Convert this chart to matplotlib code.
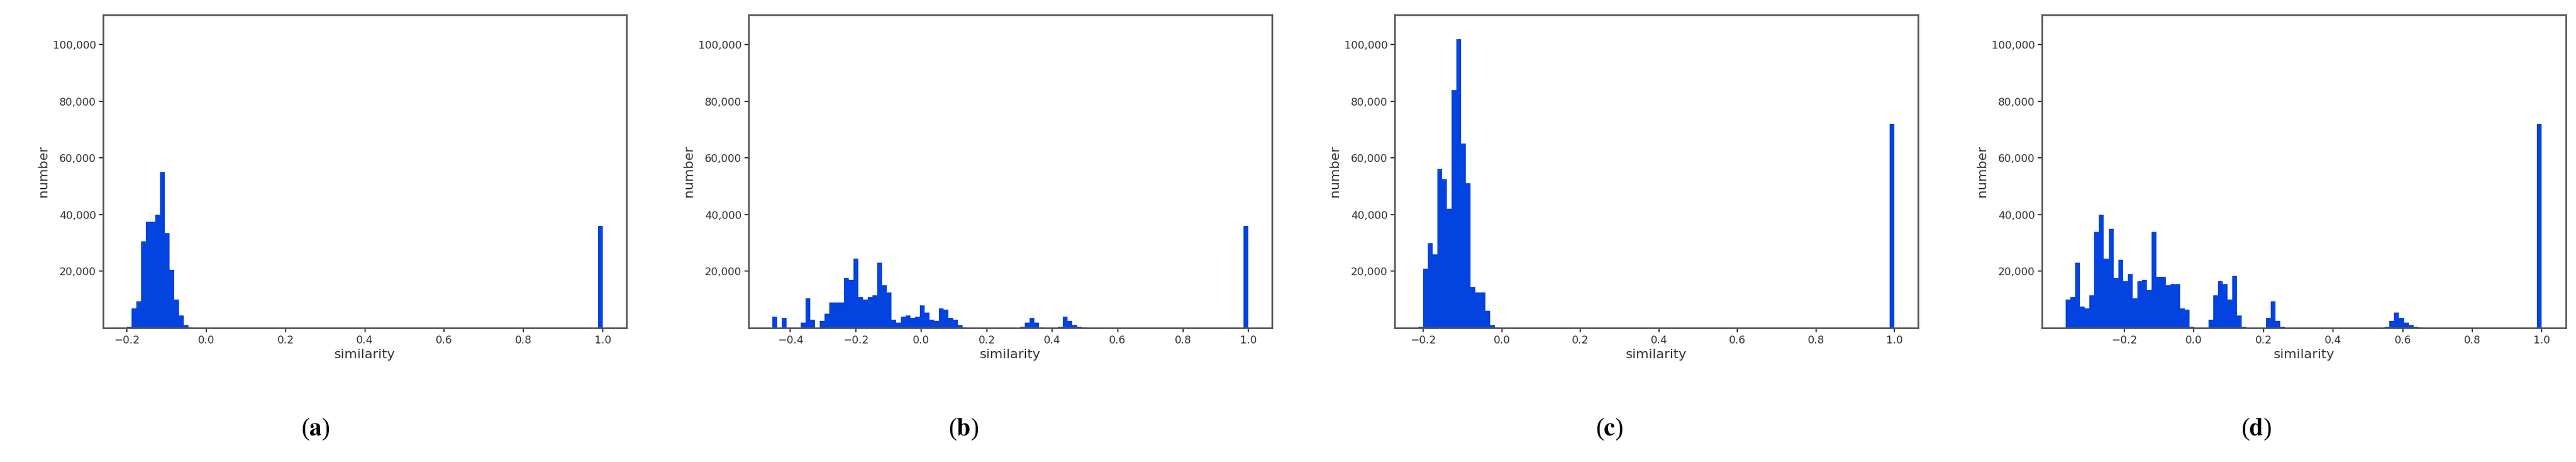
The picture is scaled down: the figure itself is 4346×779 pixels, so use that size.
import numpy as np
import matplotlib.pyplot as plt
from matplotlib.ticker import FuncFormatter

# (a)
a_centers = [-0.194, -0.182, -0.170, -0.158, -0.146, -0.134, -0.122, -0.110, -0.098, -0.086,
             -0.074, -0.062, -0.050, -0.038, 0.994]
a_counts = [500, 7000, 9500, 30500, 37500, 37500, 40000, 55000, 33500, 20500,
            10000, 4500, 1000, 300, 36000]
a_range = (-0.20, 1.0)

# (b)
b_centers = [-0.447, -0.418, -0.359, -0.344, -0.329,
             -0.301, -0.287, -0.272, -0.258, -0.244, -0.228, -0.214, -0.200, -0.186, -0.171,
             -0.156, -0.142, -0.128, -0.113, -0.099, -0.085, -0.069, -0.055, -0.041, -0.027,
             -0.012, 0.003, 0.017, 0.031, 0.046, 0.060, 0.074, 0.090, 0.104, 0.118, 0.132,
             0.310, 0.326, 0.340, 0.354, 0.368,
             0.426, 0.441, 0.455, 0.469, 0.483, 0.499, 0.993]
b_counts = [4000, 3500, 2000, 10500, 3000,
            2500, 5000, 9000, 9000, 9000, 17500, 17000, 24500, 11000, 10000,
            11000, 11500, 23000, 15000, 12500, 3000, 2000, 4000, 4500, 3500,
            4000, 8000, 5500, 3000, 2500, 7000, 6500, 3500, 3000, 1000, 200,
            500, 2000, 3500, 2000, 300,
            500, 4000, 2500, 1000, 500, 300, 36000]
b_range = (-0.455, 1.0)

# (c)
c_centers = [-0.206, -0.194, -0.182, -0.170, -0.157, -0.146, -0.133, -0.121, -0.110, -0.097,
             -0.085, -0.073, -0.062, -0.049, -0.037, -0.026, -0.014, 0.994]
c_counts = [500, 21000, 30000, 26000, 56000, 52500, 42000, 84000, 102000, 65000,
            51000, 14500, 12500, 12500, 6000, 1000, 300, 72000]
c_range = (-0.212, 1.0)

# (d)
d_centers = [-0.362, -0.348, -0.334, -0.319, -0.306, -0.292, -0.278, -0.264, -0.251, -0.237,
             -0.225, -0.211, -0.198, -0.184, -0.170, -0.157, -0.143, -0.130, -0.116, -0.102,
             -0.089, -0.075, -0.061, -0.047, -0.033, -0.020, -0.007,
             0.048, 0.062, 0.075, 0.089, 0.103, 0.117, 0.131, 0.145,
             0.212, 0.226, 0.239, 0.253,
             0.558, 0.572, 0.585, 0.599, 0.613, 0.627, 0.640, 0.653, 0.993]
d_counts = [10000, 11000, 23000, 7500, 7000, 11500, 34000, 40000, 24500, 35000,
            17500, 24000, 16500, 19000, 10500, 16500, 17000, 13500, 34000, 18000,
            18000, 15000, 15500, 15500, 7000, 6500, 500,
            3000, 11500, 16500, 15500, 10000, 18500, 4500, 500,
            3500, 9500, 2500, 500,
            500, 2500, 5500, 3500, 2000, 1000, 500, 300, 72000]
d_range = (-0.368, 1.0)

panels = [(a_centers, a_counts, a_range, 'a'),
          (b_centers, b_counts, b_range, 'b'),
          (c_centers, c_counts, c_range, 'c'),
          (d_centers, d_counts, d_range, 'd')]

lefts = [0.040, 0.2906, 0.5414, 0.7927]
caption_x = [0.1225, 0.374, 0.6247, 0.8758]

plt.rcParams['mathtext.fontset'] = 'stix'
fig = plt.figure(figsize=(43.46, 7.79), dpi=100)

for (centers, counts, rng, tag), left, cx in zip(panels, lefts, caption_x):
    ax = fig.add_axes([left, 0.290, 0.2033, 0.678])
    edges = np.linspace(rng[0], rng[1], 101)
    ax.hist(centers, bins=edges, weights=counts, color='#0343df')
    ax.set_ylim(0, 110500)
    ax.set_yticks([20000, 40000, 60000, 80000, 100000])
    ax.yaxis.set_major_formatter(FuncFormatter(lambda v, p: f'{int(v):,}'))
    ax.set_xticks([t for t in [-0.4, -0.2, 0.0, 0.2, 0.4, 0.6, 0.8, 1.0] if t >= rng[0] - 0.03])
    ax.tick_params(labelsize=13, colors='#333333', length=5, width=1.5)
    for s in ax.spines.values():
        s.set_color('#555555')
        s.set_linewidth(2)
    ax.set_xlabel('similarity', fontsize=16, color='#333333')
    ax.set_ylabel('number', fontsize=16, color='#333333')
    fig.text(cx, 0.071, r'($\mathbf{' + tag + r'}$)', fontsize=30, ha='center', va='center',
             family='Liberation Serif')

fig.savefig('out.png', dpi=100)
